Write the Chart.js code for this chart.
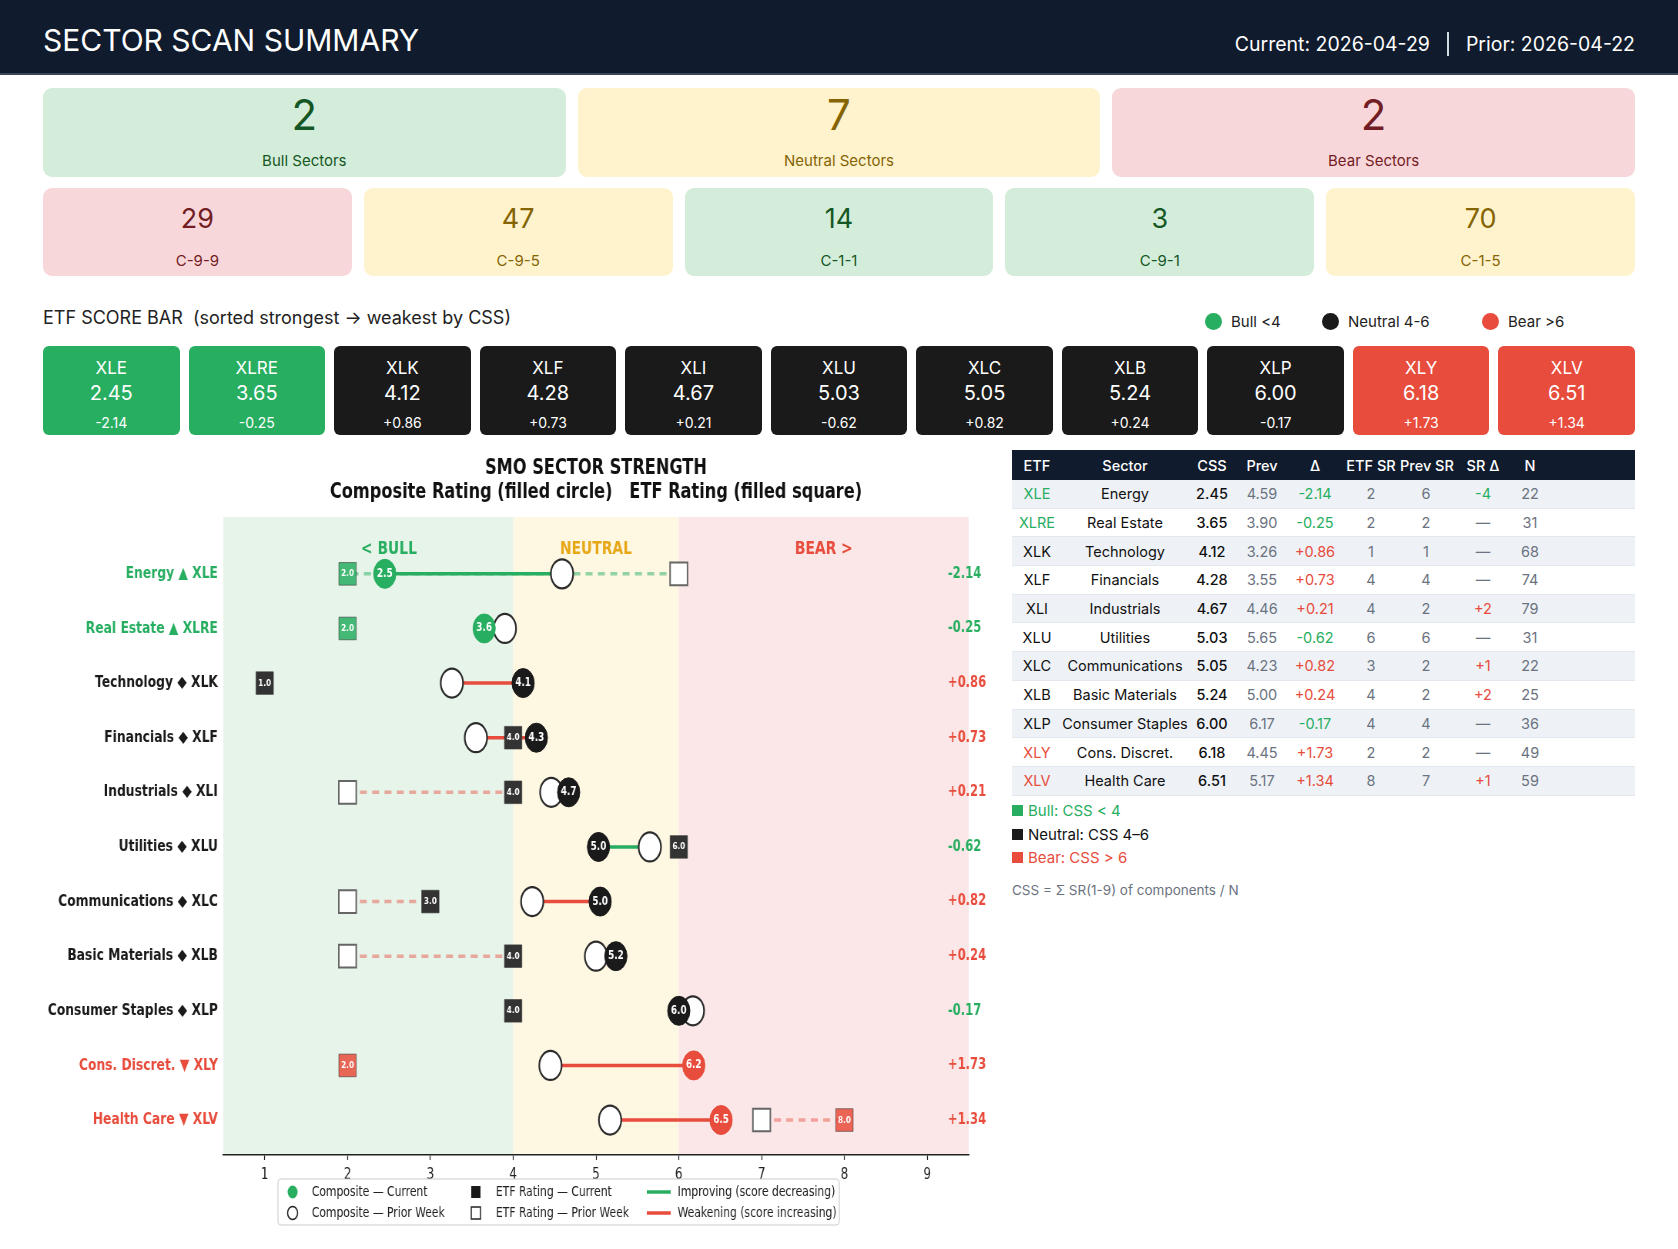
<!DOCTYPE html>
<html>
<head>
<meta charset="utf-8">
<title>Sector Scan Summary</title>
<script src="https://cdn.jsdelivr.net/npm/chart.js@4.4.1/dist/chart.umd.min.js"></script>
<style>
  body { margin: 0; background: #fff; font-family: Inter, "Noto Sans", sans-serif; color: #1f2328; }
  .page { position: relative; width: 1678px; height: 1249px; overflow: hidden; }
  .hdr { position: absolute; left: 0; top: 0; width: 1678px; height: 73px; background: #101b2d; border-bottom: 2px solid #3b4758; }
  .hdr h1 { position: absolute; left: 43px; top: 22px; margin: 0; font-size: 30px; line-height: 36px; font-weight: 400; color: #fff; }
  .dates { position: absolute; right: 43px; top: 30px; height: 28px; display: flex; align-items: center; color: #fff; font-size: 19.5px; }
  .dates .sep { width: 2px; height: 24px; background: #d5dbe3; margin: 0 17px; }
  .cards { position: absolute; left: 43px; width: 1592px; display: grid; gap: 12px; }
  .card { border-radius: 9px; text-align: center; position: relative; }
  .card .num { position: absolute; left: 0; right: 0; }
  .card .lab { position: absolute; left: 0; right: 0; font-size: 15px; line-height: 18px; }
  .bull { background: #d4edda; color: #155724; }
  .neutral { background: #fff3cd; color: #856404; }
  .bear { background: #f8d7da; color: #721c24; }
  .sec-title { position: absolute; left: 43px; top: 307px; font-size: 18px; line-height: 22px; color: #222; white-space: pre; }
  .key { position: absolute; top: 312px; font-size: 15px; line-height: 20px; color: #222; }
  .key i { position: absolute; left: -26px; top: 1px; width: 17px; height: 17px; border-radius: 50%; }
  .bar { position: absolute; left: 43px; top: 346px; width: 1592px; display: grid; grid-template-columns: repeat(11, 1fr); gap: 9px; }
  .etf { height: 89px; border-radius: 6px; color: #fff; position: relative; text-align: center; }
  .etf div { position: absolute; left: 0; right: 0; }
  table { position: absolute; left: 1012px; top: 450px; width: 623px; border-collapse: collapse; table-layout: fixed; font-size: 14.5px; }
  th { background: #101b2d; color: #fff; font-weight: 500; height: 30px; padding: 0; text-align: center; white-space: nowrap; }
  td { height: 27.7px; padding: 0; text-align: center; white-space: nowrap; border-bottom: 1px solid #e3e8ef; color: #6b7280; }
  tbody tr:nth-child(odd) td { background: #eef2f7; }
  .notes { position: absolute; left: 1012px; top: 799px; font-size: 15px; line-height: 23.5px; }
  .notes span { display: inline-block; width: 11px; height: 11px; margin-right: 5px; }
  .formula { position: absolute; left: 1012px; top: 880px; font-size: 13.5px; line-height: 20px; color: #6b7280; }
  #chart { position: absolute; left: 0; top: 440px; }
</style>
</head>
<body>
<div class="page">
  <div class="hdr">
    <h1>SECTOR SCAN SUMMARY</h1>
    <div class="dates"><span>Current: 2026-04-29</span><span class="sep"></span><span>Prior: 2026-04-22</span></div>
  </div>
  <div class="cards" id="row1" style="top:88px;grid-template-columns:repeat(3,1fr)"></div>
  <div class="cards" id="row2" style="top:188px;grid-template-columns:repeat(5,1fr)"></div>
  <div class="sec-title">ETF SCORE BAR  (sorted strongest → weakest by CSS)</div>
  <div class="key" style="left:1231px"><i style="background:#27ae60"></i>Bull &lt;4</div>
  <div class="key" style="left:1348px"><i style="background:#1a1a1a"></i>Neutral 4-6</div>
  <div class="key" style="left:1508px"><i style="background:#e74c3c"></i>Bear &gt;6</div>
  <div class="bar" id="bar"></div>
  <table id="tbl">
    <colgroup><col style="width:50px"><col style="width:126px"><col style="width:48px"><col style="width:52px"><col style="width:54px"><col style="width:58px"><col style="width:52px"><col style="width:62px"><col style="width:32px"><col></colgroup>
    <thead><tr><th>ETF</th><th>Sector</th><th>CSS</th><th>Prev</th><th>Δ</th><th>ETF SR</th><th>Prev SR</th><th>SR Δ</th><th>N</th><th></th></tr></thead>
    <tbody></tbody>
  </table>
  <div class="notes">
    <div style="color:#27ae60"><span style="background:#27ae60"></span>Bull: CSS &lt; 4</div>
    <div style="color:#111"><span style="background:#1a1a1a"></span>Neutral: CSS 4–6</div>
    <div style="color:#e74c3c"><span style="background:#e74c3c"></span>Bear: CSS &gt; 6</div>
  </div>
  <div class="formula">CSS = Σ SR(1-9) of components / N</div>
  <canvas id="chart" width="1300" height="800" style="width:1001px;height:800px"></canvas>
</div>
<script>
// sector data, strongest -> weakest by CSS
var sectors = ["Energy", "Real Estate", "Technology", "Financials", "Industrials", "Utilities",
  "Communications", "Basic Materials", "Consumer Staples", "Cons. Discret.", "Health Care"];
var tickers = ["XLE", "XLRE", "XLK", "XLF", "XLI", "XLU", "XLC", "XLB", "XLP", "XLY", "XLV"];
var cssNow = [2.45, 3.65, 4.12, 4.28, 4.67, 5.03, 5.05, 5.24, 6.00, 6.18, 6.51];
var cssPrev = [4.59, 3.90, 3.26, 3.55, 4.46, 5.65, 4.23, 5.00, 6.17, 4.45, 5.17];
var cssDelta = [-2.14, -0.25, 0.86, 0.73, 0.21, -0.62, 0.82, 0.24, -0.17, 1.73, 1.34];
var etfSr = [2, 2, 1, 4, 4, 6, 3, 4, 4, 2, 8];
var etfSrPrev = [6, 2, 1, 4, 2, 6, 2, 2, 4, 2, 7];
var compN = [22, 31, 68, 74, 79, 31, 22, 25, 36, 49, 59];

// summary cards
var sectorCounts = [2, 7, 2];
var sectorCountLabels = ["Bull Sectors", "Neutral Sectors", "Bear Sectors"];
var patternCounts = [29, 47, 14, 3, 70];
var patternLabels = ["C-9-9", "C-9-5", "C-1-1", "C-9-1", "C-1-5"];
var patternTones = ["bear", "neutral", "bull", "bull", "neutral"];

// chart axis / zones
var xTicks = [1, 2, 3, 4, 5, 6, 7, 8, 9];
var zoneEdges = [0.5, 4, 6, 9.5];
var zoneNames = ["< BULL", "NEUTRAL", "BEAR >"];
var zoneLabelAt = [2.5, 5, 7.75];

var toneColor = { bull: "#27ae60", neutral: "#1a1a1a", bear: "#e74c3c" };
var squareColor = { bull: "rgba(39,174,96,0.85)", neutral: "#333333", bear: "rgba(231,76,60,0.85)" };
var zoneFill = ["#e7f4ea", "#fef7e2", "#fbe7e7"];
var zoneText = ["#27ae60", "#e6a817", "#e74c3c"];
var glyph = { bull: "▲", neutral: "◆", bear: "▼" };

function tone(v) { return v < 4 ? "bull" : (v > 6 ? "bear" : "neutral"); }
function signed(v, d) { return (v > 0 ? "+" : "") + v.toFixed(d); }

// ---- html parts ----
var row1 = document.getElementById("row1");
["bull", "neutral", "bear"].forEach(function (t, i) {
  row1.innerHTML += '<div class="card ' + t + '" style="height:89px">' +
    '<div class="num" style="top:4px;font-size:42px;line-height:46px">' + sectorCounts[i] + '</div>' +
    '<div class="lab" style="top:64px">' + sectorCountLabels[i] + '</div></div>';
});
var row2 = document.getElementById("row2");
patternCounts.forEach(function (n, i) {
  row2.innerHTML += '<div class="card ' + patternTones[i] + '" style="height:88px">' +
    '<div class="num" style="top:15px;font-size:27px;line-height:32px">' + n + '</div>' +
    '<div class="lab" style="top:64px">' + patternLabels[i] + '</div></div>';
});

var bar = document.getElementById("bar");
tickers.forEach(function (t, i) {
  bar.innerHTML += '<div class="etf" style="background:' + toneColor[tone(cssNow[i])] + '">' +
    '<div style="top:11px;font-size:17px;line-height:22px">' + t + '</div>' +
    '<div style="top:34px;font-size:20px;line-height:26px">' + cssNow[i].toFixed(2) + '</div>' +
    '<div style="top:67px;font-size:14px;line-height:20px">' + signed(cssDelta[i], 2) + '</div></div>';
});

var tbody = document.querySelector("#tbl tbody");
tickers.forEach(function (t, i) {
  var tn = tone(cssNow[i]);
  var srd = etfSr[i] - etfSrPrev[i];
  var srCol = srd < 0 ? "#27ae60" : (srd > 0 ? "#e74c3c" : "#6b7280");
  tbody.innerHTML += "<tr>" +
    '<td style="color:' + (tn === "neutral" ? "#111" : toneColor[tn]) + '">' + t + "</td>" +
    '<td style="color:#111">' + sectors[i] + "</td>" +
    '<td style="color:#111;font-weight:500">' + cssNow[i].toFixed(2) + "</td>" +
    "<td>" + cssPrev[i].toFixed(2) + "</td>" +
    '<td style="color:' + (cssDelta[i] < 0 ? "#27ae60" : "#e74c3c") + '">' + signed(cssDelta[i], 2) + "</td>" +
    "<td>" + etfSr[i] + "</td>" +
    "<td>" + etfSrPrev[i] + "</td>" +
    '<td style="color:' + srCol + '">' + (srd === 0 ? "—" : signed(srd, 0)) + "</td>" +
    "<td>" + compN[i] + "</td><td></td></tr>";
});

// ---- chart ----
var rows = sectors.map(function (s, i) { return i; });
var yLabels = rows.map(function (i) { return sectors[i] + " " + glyph[tone(cssNow[i])] + " " + tickers[i]; });
var yColors = rows.map(function (i) { return toneColor[tone(cssNow[i])]; });
var moved = rows.filter(function (i) { return etfSr[i] !== etfSrPrev[i]; });

var datasets = [
  { // composite current (top-most)
    label: "Composite — Current",
    data: rows.map(function (i) { return { x: cssNow[i], y: i }; }),
    pointStyle: "circle", pointRadius: 14.5,
    pointBackgroundColor: rows.map(function (i) { return toneColor[tone(cssNow[i])]; }),
    pointBorderColor: rows.map(function (i) { return toneColor[tone(cssNow[i])]; }),
    pointBorderWidth: 1
  },
  { // composite prior week
    label: "Composite — Prior Week",
    data: rows.map(function (i) { return { x: cssPrev[i], y: i }; }),
    pointStyle: "circle", pointRadius: 14.5,
    pointBackgroundColor: "#ffffff", pointBorderColor: "#2b2b2b", pointBorderWidth: 2.2
  },
  { // ETF rating current
    label: "ETF Rating — Current",
    data: rows.map(function (i) { return { x: etfSr[i], y: i }; }),
    pointStyle: "rect", pointRadius: 16,
    pointBackgroundColor: rows.map(function (i) { return squareColor[tone(cssNow[i])]; }),
    pointBorderColor: "rgba(60,60,60,0.6)", pointBorderWidth: 1
  },
  { // ETF rating prior week (only where it moved)
    label: "ETF Rating — Prior Week",
    data: moved.map(function (i) { return { x: etfSrPrev[i], y: i }; }),
    pointStyle: "rect", pointRadius: 16,
    pointBackgroundColor: "#ffffff", pointBorderColor: "#666666", pointBorderWidth: 2
  }
];

// composite change lines
rows.forEach(function (i) {
  datasets.push({
    type: "line",
    data: [{ x: cssPrev[i], y: i }, { x: cssNow[i], y: i }],
    borderColor: cssNow[i] < cssPrev[i] ? "#27ae60" : "#e74c3c",
    borderWidth: 3.5, pointRadius: 0, fill: false
  });
});
// ETF rating change (dashed)
moved.forEach(function (i) {
  datasets.push({
    type: "line",
    data: [{ x: etfSrPrev[i], y: i }, { x: etfSr[i], y: i }],
    borderColor: etfSr[i] < etfSrPrev[i] ? "rgba(39,174,96,0.5)" : "rgba(231,76,60,0.45)",
    borderDash: [9, 7], borderWidth: 3.5, pointRadius: 0, fill: false
  });
});

var zonePlugin = {
  id: "zones",
  beforeDraw: function (chart) {
    var c = chart.ctx, a = chart.chartArea, xs = chart.scales.x, ys = chart.scales.y;
    c.save();
    for (var k = 0; k < zoneNames.length; k++) {
      var x0 = xs.getPixelForValue(zoneEdges[k]), x1 = xs.getPixelForValue(zoneEdges[k + 1]);
      c.fillStyle = zoneFill[k];
      c.fillRect(x0, a.top, x1 - x0, a.bottom - a.top);
    }
    c.font = 'bold 18px "DejaVu Sans"';
    c.textAlign = "center";
    c.textBaseline = "middle";
    for (k = 0; k < zoneNames.length; k++) {
      c.fillStyle = zoneText[k];
      c.fillText(zoneNames[k], xs.getPixelForValue(zoneLabelAt[k]), ys.getPixelForValue(-0.45));
    }
    c.restore();
  }
};

var textPlugin = {
  id: "markerText",
  afterDatasetsDraw: function (chart) {
    var c = chart.ctx, xs = chart.scales.x, ys = chart.scales.y;
    c.save();
    c.textAlign = "center";
    c.textBaseline = "middle";
    c.fillStyle = "#fff";
    c.font = 'bold 9.5px "DejaVu Sans"';
    chart.getDatasetMeta(2).data.forEach(function (pt, i) {
      c.fillText(etfSr[i].toFixed(1), pt.x, pt.y);
    });
    c.font = 'bold 11.5px "DejaVu Sans"';
    chart.getDatasetMeta(0).data.forEach(function (pt, i) {
      c.fillText(cssNow[i].toFixed(1), pt.x, pt.y);
    });
    // week-over-week CSS change at the right edge
    c.textAlign = "left";
    c.font = 'bold 15px "DejaVu Sans"';
    rows.forEach(function (i) {
      c.fillStyle = cssDelta[i] < 0 ? "#27ae60" : "#e74c3c";
      c.fillText(signed(cssDelta[i], 2), xs.getPixelForValue(9.25), ys.getPixelForValue(i));
    });
    c.restore();
  }
};

var legendPlugin = {
  id: "boxLegend",
  afterDraw: function (chart) {
    var c = chart.ctx, a = chart.chartArea;
    var L = a.left + 71, T = 739, W = 729, Hh = 46;
    c.save();
    c.fillStyle = "rgba(255,255,255,0.9)";
    c.strokeStyle = "#cccccc";
    c.lineWidth = 1.2;
    c.beginPath();
    c.roundRect(L, T, W, Hh, 4);
    c.fill();
    c.stroke();
    var r1 = T + 13, r2 = T + 34;
    // circles
    c.fillStyle = "#27ae60";
    c.beginPath(); c.arc(L + 19, r1, 6.5, 0, Math.PI * 2); c.fill();
    c.fillStyle = "#fff"; c.strokeStyle = "#222"; c.lineWidth = 1.5;
    c.beginPath(); c.arc(L + 19, r2, 6.5, 0, Math.PI * 2); c.fill(); c.stroke();
    // squares
    c.fillStyle = "#1a1a1a";
    c.fillRect(L + 251, r1 - 6, 12, 12);
    c.fillStyle = "#fff";
    c.fillRect(L + 251, r2 - 6, 12, 12);
    c.strokeRect(L + 251, r2 - 6, 12, 12);
    // lines
    c.lineWidth = 3.5;
    c.strokeStyle = "#27ae60";
    c.beginPath(); c.moveTo(L + 479, r1); c.lineTo(L + 510, r1); c.stroke();
    c.strokeStyle = "#e74c3c";
    c.beginPath(); c.moveTo(L + 479, r2); c.lineTo(L + 510, r2); c.stroke();
    c.fillStyle = "#222";
    c.font = '14px "DejaVu Sans"';
    c.textBaseline = "middle";
    c.fillText("Composite — Current", L + 44, r1);
    c.fillText("Composite — Prior Week", L + 44, r2);
    c.fillText("ETF Rating — Current", L + 283, r1);
    c.fillText("ETF Rating — Prior Week", L + 283, r2);
    c.fillText("Improving (score decreasing)", L + 519, r1);
    c.fillText("Weakening (score increasing)", L + 519, r2);
    c.restore();
  }
};

new Chart(document.getElementById("chart").getContext("2d"), {
  type: "scatter",
  data: { datasets: datasets },
  options: {
    responsive: false,
    animation: false,
    events: [],
    layout: { padding: { top: 17, right: 42, bottom: 55, left: 0 } },
    plugins: {
      legend: { display: false },
      tooltip: { enabled: false },
      title: {
        display: true,
        fullSize: false,
        text: ["SMO SECTOR STRENGTH", "Composite Rating (filled circle)   ETF Rating (filled square)"],
        color: "#111",
        font: { family: "DejaVu Sans", weight: "bold", size: 21, lineHeight: 1.12 },
        padding: { top: 0, bottom: 13 }
      }
    },
    scales: {
      x: {
        type: "linear", min: 0.5, max: 9.5,
        afterBuildTicks: function (s) { s.ticks = xTicks.map(function (v) { return { value: v }; }); },
        afterFit: function (s) { s.height = 30; },
        ticks: { color: "#222", font: { family: "DejaVu Sans", size: 15.5 }, padding: 6 },
        grid: { drawOnChartArea: false, drawTicks: true, tickLength: 5, tickColor: "#222", tickWidth: 1.2 },
        border: { display: true, color: "#222", width: 1.5 }
      },
      y: {
        type: "linear", min: -1.04, max: 10.64, reverse: true,
        afterBuildTicks: function (s) { s.ticks = rows.map(function (v) { return { value: v }; }); },
        afterFit: function (s) { s.width = 290; },
        ticks: {
          callback: function (v) { return yLabels[v]; },
          color: function (ctx) { return yColors[ctx.index]; },
          font: { family: "DejaVu Sans", weight: "bold", size: 16 },
          padding: 7
        },
        grid: { display: false, drawTicks: false },
        border: { display: false }
      }
    }
  },
  plugins: [zonePlugin, textPlugin, legendPlugin]
});
</script>
</body>
</html>
